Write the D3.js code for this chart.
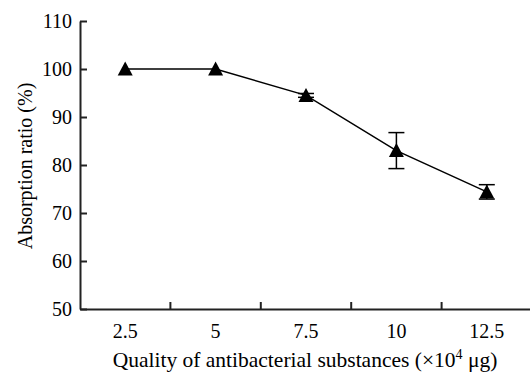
<!DOCTYPE html>
<html>
<head>
<meta charset="utf-8">
<script src="https://cdn.jsdelivr.net/npm/d3@7"></script>
<style>
  html, body { margin: 0; padding: 0; background: #fff; }
  svg { display: block; }
</style>
</head>
<body>
<svg id="chart" width="530" height="372"></svg>
<script>
// Data
const categories = ['2.5', '5', '7.5', '10', '12.5'];
const ratios = [100, 100, 94.5, 83, 74.4];
const errors = [0, 0, 0.4, 3.75, 1.5];
const yTicks = [50, 60, 70, 80, 90, 100, 110];

const FONT = "'Times New Roman', 'Liberation Serif', 'DejaVu Serif', serif";
const margin = { left: 80, right: -2, top: 21, bottom: 63 };
const width = 530, height = 372;

const svg = d3.select('#chart');

const x = d3.scaleBand()
  .domain(categories)
  .range([margin.left, width - margin.right]);

const y = d3.scaleLinear()
  .domain([50, 110])
  .range([height - margin.bottom, margin.top]);

const points = categories.map((c, i) => ({ c, v: ratios[i], e: errors[i] }));
const cx = d => x(d.c) + x.bandwidth() / 2;

// Y axis — ticks point inward
const yAxis = svg.append('g')
  .attr('transform', `translate(${margin.left},0)`)
  .call(d3.axisLeft(y).tickValues(yTicks).tickSizeInner(-7).tickSizeOuter(0).tickPadding(8));

// X axis — labels centered in bands, ticks on band boundaries
const xAxis = svg.append('g')
  .attr('transform', `translate(0,${y(50)})`)
  .call(d3.axisBottom(x).tickSize(0).tickPadding(15));

xAxis.selectAll('line.boundary')
  .data(categories.slice(1))
  .join('line')
  .attr('class', 'boundary')
  .attr('x1', d => x(d)).attr('x2', d => x(d))
  .attr('y1', 0).attr('y2', -7);

[yAxis, xAxis].forEach(g => g.attr('font-family', FONT).attr('font-size', 20));
svg.selectAll('.tick text').attr('fill', '#000');

svg.selectAll('.domain, .tick line, line.boundary')
  .attr('stroke', '#222')
  .attr('stroke-width', 2);

// Series line
svg.append('path')
  .datum(points)
  .attr('fill', 'none')
  .attr('stroke', '#000')
  .attr('stroke-width', 1.5)
  .attr('d', d3.line().x(cx).y(d => y(d.v)));

// Error bars
const errG = svg.append('g')
  .attr('stroke', '#000')
  .attr('stroke-width', 1.5);
const withErr = points.filter(d => d.e > 0);
errG.selectAll('line.stem')
  .data(withErr)
  .join('line')
  .attr('class', 'stem')
  .attr('x1', cx).attr('x2', cx)
  .attr('y1', d => y(d.v + d.e)).attr('y2', d => y(d.v - d.e));
errG.selectAll('line.capTop')
  .data(withErr)
  .join('line')
  .attr('class', 'capTop')
  .attr('x1', d => cx(d) - 8).attr('x2', d => cx(d) + 8)
  .attr('y1', d => y(d.v + d.e)).attr('y2', d => y(d.v + d.e));
errG.selectAll('line.capBot')
  .data(withErr)
  .join('line')
  .attr('class', 'capBot')
  .attr('x1', d => cx(d) - 8).attr('x2', d => cx(d) + 8)
  .attr('y1', d => y(d.v - d.e)).attr('y2', d => y(d.v - d.e));

// Triangle markers
svg.append('g')
  .selectAll('path')
  .data(points)
  .join('path')
  .attr('transform', d => `translate(${cx(d)},${y(d.v)})`)
  .attr('d', 'M0,-7.5L7.5,6.5L-7.5,6.5Z')
  .attr('fill', '#000');

// Axis titles
svg.append('text')
  .attr('x', 305)
  .attr('y', 367)
  .attr('text-anchor', 'middle')
  .attr('font-family', FONT)
  .attr('font-size', 21.5)
  .html('Quality of antibacterial substances (×10<tspan dy="-8" font-size="14">4</tspan><tspan dy="8"> μg)</tspan>');

svg.append('text')
  .attr('transform', `translate(32,166) rotate(-90)`)
  .attr('text-anchor', 'middle')
  .attr('font-family', FONT)
  .attr('font-size', 20)
  .text('Absorption ratio (%)');
</script>
</body>
</html>
